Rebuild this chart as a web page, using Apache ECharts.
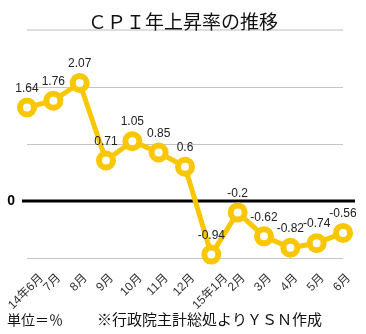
<!DOCTYPE html>
<html>
<head>
<meta charset="utf-8">
<script src="https://cdn.jsdelivr.net/npm/echarts@6/dist/echarts.min.js"></script>
<style>
html,body{margin:0;padding:0;background:#fff;}
#main{width:366px;height:334px;}
</style>
</head>
<body>
<div id="main"></div>
<script>
const categories = ['14年6月','7月','8月','9月','10月','11月','12月','15年1月','2月','3月','4月','5月','6月'];
const cpiValues = [1.64, 1.76, 2.07, 0.71, 1.05, 0.85, 0.6, -0.94, -0.2, -0.62, -0.82, -0.74, -0.56];
const yTicks = [-1, 0, 1, 2];
const titleText = 'ＣＰＩ年上昇率の推移';
const unitText = '単位＝％';
const sourceText = '※行政院主計総処よりＹＳＮ作成';

const FONT = '"Liberation Sans", "Noto Sans CJK JP", sans-serif';
const LABEL_FONT = '12px ' + FONT;
const YELLOW = '#F9C700';

const chart = echarts.init(document.getElementById('main'), null, { renderer: 'canvas' });
const option = {
  animation: false,
  backgroundColor: '#fff',
  title: {
    text: titleText,
    left: 'center',
    top: 7,
    textStyle: { fontFamily: '"Noto Sans CJK JP", sans-serif', fontSize: 19, fontWeight: 'normal', color: '#111' }
  },
  grid: { left: 27, right: 23, top: 87, bottom: 76, containLabel: false, outerBoundsMode: 'none' },
  xAxis: {
    type: 'category',
    data: categories,
    boundaryGap: false,
    axisLine: { show: true, lineStyle: { color: '#555', width: 1 } },
    axisTick: { show: false },
    axisLabel: { show: false }
  },
  yAxis: {
    type: 'value',
    min: yTicks[0],
    max: yTicks[yTicks.length - 1],
    interval: 1,
    axisLine: { show: false },
    axisTick: { show: false },
    splitLine: { lineStyle: { color: '#c4c4c4', width: 1 } },
    axisLabel: {
      formatter: function (v) { return v === 0 ? '0' : ''; },
      fontSize: 14,
      fontWeight: 'bold',
      color: '#000',
      margin: 12,
      fontFamily: FONT
    }
  },
  series: [{
    type: 'line',
    data: cpiValues,
    clip: false,
    symbol: 'circle',
    symbolSize: 14,
    lineStyle: { color: YELLOW, width: 5 },
    itemStyle: { color: '#fff', borderColor: YELLOW, borderWidth: 6 },
    label: {
      show: true,
      position: 'top',
      distance: 3,
      fontSize: 12,
      color: '#222',
      fontFamily: FONT
    },
    z: 5
  }]
};
chart.setOption(option);

// category labels rotated 45° (reading upward), centred under each tick with a common top edge
const cv = document.createElement('canvas').getContext('2d');
cv.font = LABEL_FONT;
const yBottom = chart.convertToPixel({ yAxisIndex: 0 }, yTicks[0]);
const y0 = chart.convertToPixel({ yAxisIndex: 0 }, 0);
const labelTop = yBottom + 14;
const catLabels = categories.map(function (c, i) {
  const x = chart.convertToPixel({ xAxisIndex: 0 }, i);
  const w = cv.measureText(c).width;
  const h = 12;
  return {
    type: 'text',
    x: x - 1,
    y: labelTop + (w + h) * 0.3536,
    rotation: Math.PI / 4,
    style: { text: c, font: LABEL_FONT, fill: '#333', align: 'center', verticalAlign: 'middle' }
  };
});

chart.setOption({
  graphic: [
    { type: 'line', shape: { x1: 27, y1: 30, x2: 343, y2: 30 }, style: { stroke: '#bdbdbd', lineWidth: 1 } },
    { type: 'line', shape: { x1: 22, y1: y0, x2: 355, y2: y0 }, style: { stroke: '#000', lineWidth: 3 }, z: 3 },
    { type: 'text', left: 7, top: 313, style: { text: unitText, font: '14px "Noto Sans CJK JP", sans-serif', fill: '#111' } },
    { type: 'text', left: 97, top: 312, style: { text: sourceText, font: '15px "Noto Sans CJK JP", sans-serif', fill: '#111' } }
  ].concat(catLabels)
});
</script>
</body>
</html>
